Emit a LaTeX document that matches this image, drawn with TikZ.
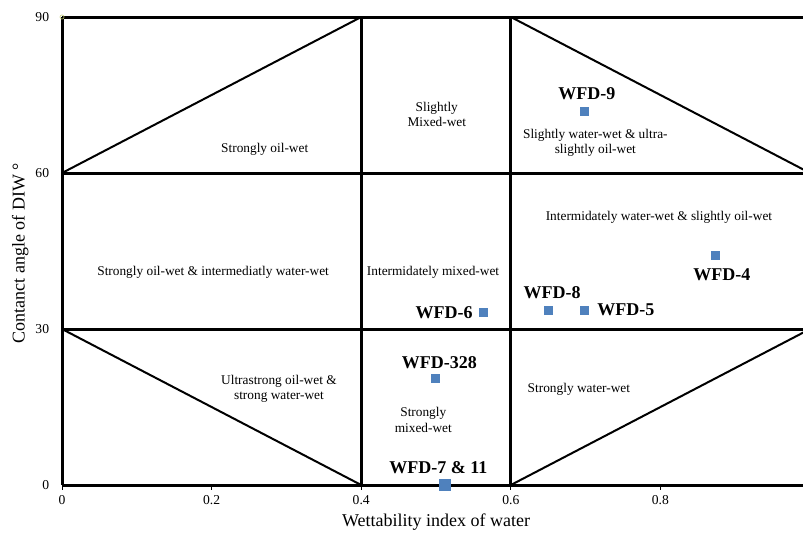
\documentclass[tikz,border=0pt]{standalone}
\usepackage{fontspec}
\setmainfont{Liberation Serif}
\usepackage{tikz}
\usetikzlibrary{positioning}
\definecolor{samplecol}{RGB}{79,129,189}
\definecolor{markcol}{RGB}{190,200,110}
\tikzstyle{gridline} = [line width=2.25pt]
\tikzstyle{diagline} = [line width=1.5pt]
\tikzstyle{sample} = [rectangle, fill=samplecol, minimum size=6.75pt, inner sep=0pt]
\tikzstyle{wfd} = [font=\fontsize{13.5}{15}\selectfont\bfseries, inner sep=1pt]
\tikzstyle{zone} = [font=\fontsize{10}{11.5}\selectfont, align=center]
\tikzstyle{ticklab} = [font=\fontsize{10.2}{11}\selectfont]
\tikzstyle{axislab} = [font=\fontsize{13.5}{15}\selectfont]

\begin{document}
\begin{tikzpicture}[x=561pt, y=3.9pt]
  \useasboundingbox (-0.0829,-9.423) rectangle (0.9906,93.27);
  % grid of zones
  \foreach \y in {0,30,60,90}
    \draw[gridline] (0,\y) -- (1,\y);
  \foreach \x in {0,0.4,0.6}
    \draw[gridline] (\x,0) -- (\x,90);
  \draw[diagline] (0,60) -- (0.4,90);
  \draw[diagline] (0.6,90) -- (1,60);
  \draw[diagline] (0,30) -- (0.4,0);
  \draw[diagline] (0.6,0) -- (1,30);
  \node[circle, draw=markcol, inner sep=1.1pt] (corner) at (0,90) {};
  % axes
  \foreach \x in {0,0.2,0.4,0.6,0.8}{
    \draw[line width=0.75pt] (\x,0) -- ++(0,-3.5pt);
    \node[ticklab] at (\x,-2.9) {\x};}
  \foreach \y in {0,30,60,90}
    \node[ticklab, left] at (-0.011,\y) {\y};
  \node[axislab] (xlab) at (0.5,-7.1) {Wettability index of water};
  \node[axislab, rotate=90] (ylab) at (-0.056,44.6) {Contanct angle of DIW °};
  % zones
  \node[zone] (z1) at (0.271,64.6) {Strongly oil-wet};
  \node[zone] (z2) at (0.501,71.2) {Slightly\\Mixed-wet};
  \node[zone] (z3) at (0.713,65.8) {Slightly water-wet \& ultra-\\slightly oil-wet};
  \node[zone] (z4) at (0.202,41.0) {Strongly oil-wet \& intermediatly water-wet};
  \node[zone] (z5) at (0.496,41.0) {Intermidately mixed-wet};
  \node[zone] (z6) at (0.798,51.5) {Intermidately water-wet \& slightly oil-wet};
  \node[zone] (z7) at (0.290,18.5) {Ultrastrong oil-wet \&\\strong water-wet};
  \node[zone] (z8) at (0.691,18.5) {Strongly water-wet};
  \node[zone] (z9) at (0.483,12.5) {Strongly\\mixed-wet};
  % samples
  \node[sample] (p9) at (0.698,71.9) {};
  \node[wfd, above=3.5pt of p9, xshift=2pt] (l9) {WFD-9};
  \node[sample] (p4) at (0.874,44.2) {};
  \node[wfd, below=5pt of p4, xshift=4.5pt] (l4) {WFD-4};
  \node[sample] (p8) at (0.650,33.5) {};
  \node[wfd, above=4.25pt of p8, xshift=3pt] (l8) {WFD-8};
  \node[sample] (p5) at (0.699,33.65) {};
  \node[wfd, right=4.6pt of p5] (l5) {WFD-5};
  \node[sample] (p6) at (0.563,33.1) {};
  \node[wfd, left=3.1pt of p6] (l6) {WFD-6};
  \node[sample] (p328) at (0.499,20.4) {};
  \node[wfd, above=2.75pt of p328, xshift=3pt] (l328) {WFD-328};
  \node[sample, minimum size=8.5pt] (p7) at (0.512,0) {};
  \node[wfd, above=3.1pt of p7, xshift=-5pt] (l7) {WFD-7 \& 11};
\end{tikzpicture}
\end{document}
